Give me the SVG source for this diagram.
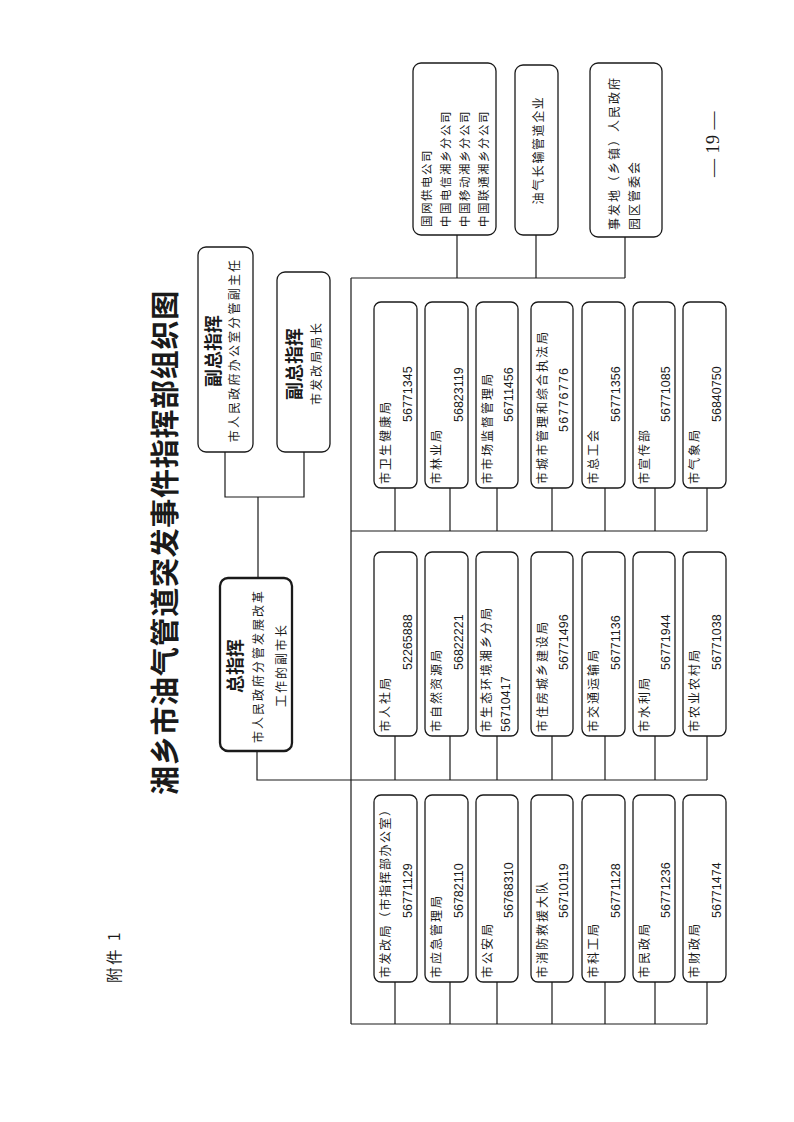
<svg xmlns="http://www.w3.org/2000/svg" width="794" height="1122" viewBox="0 0 794 1122">
<style>
.bg{fill:#fff}
.box{fill:#fff;stroke:#1a1a1a;stroke-width:1.3}
.bold{stroke-width:2.3}
.ln{fill:none;stroke:#1a1a1a;stroke-width:1.2}
text{fill:#1a1a1a;dominant-baseline:central}
.t{font-family:"Noto Sans CJK SC","Noto Sans CJK JP",sans-serif;font-size:12px;letter-spacing:2px}
.ts{font-family:"Noto Sans CJK SC","Noto Sans CJK JP",sans-serif;font-size:11.5px;letter-spacing:1.5px}
.n{font-family:"Liberation Sans",Arial,sans-serif;font-size:12.5px}
.h{font-family:"Noto Sans CJK SC","Noto Sans CJK JP",sans-serif;font-size:18px;font-weight:bold}
.title{font-family:"Noto Sans CJK SC","Noto Sans CJK JP",sans-serif;font-size:29px;font-weight:bold;letter-spacing:0.7px}
.mid{text-anchor:middle}
</style>
<rect class="bg" x="0" y="0" width="794" height="1122"/>

<text class="title" transform="translate(163,795) rotate(-90)">湘乡市油气管道突发事件指挥部组织图</text>
<text transform="translate(113,983) rotate(-90)" style="font-family:'Noto Sans CJK SC',sans-serif;font-size:15.5px;letter-spacing:2.5px">附件 1</text>
<text transform="translate(713,177) rotate(-90)" style="font-family:'Liberation Serif',serif;font-size:18px;letter-spacing:0.5px">— 19 —</text>

<g id="connectors">
<path class="ln" d="M225 452V497H304V452M258 497V578M257 751V780H707M351 278V1024M351 278H625M457 235V278M536 235V278M625 237V278"/>
<path class="ln" d="M351 531H707M395 488V531M450 488V531M497 488V531M552 488V531M605 488V531M655 488V531M707 488V531"/>
<path class="ln" d="M395 736V780M450 736V780M497 736V780M552 736V780M605 736V780M655 736V780M707 736V780"/>
<path class="ln" d="M351 1024H707M395 982V1024M450 982V1024M497 982V1024M552 982V1024M605 982V1024M655 982V1024M707 982V1024"/>
</g>

<!-- leadership -->
<g id="deputy1" transform="translate(198,452) rotate(-90)">
<rect class="box" x="0" y="0" width="205" height="55" rx="8"/>
<text class="h mid" x="101" y="14">副总指挥</text>
<text class="t mid" x="102" y="35" style="letter-spacing:2.2px">市人民政府办公室分管副主任</text>
</g>
<g id="deputy2" transform="translate(277,452) rotate(-90)">
<rect class="box" x="0" y="0" width="180" height="53" rx="8"/>
<text class="h mid" x="88" y="16">副总指挥</text>
<text class="t mid" x="89" y="38">市发改局局长</text>
</g>
<g id="chief" transform="translate(220,751) rotate(-90)">
<rect class="box bold" x="0" y="0" width="173" height="72" rx="8"/>
<text class="h mid" x="85" y="14">总指挥</text>
<text class="t mid" x="85" y="37">市人民政府分管发展改革</text>
<text class="t mid" x="86" y="60">工作的副市长</text>
</g>

<!-- top group -->
<g id="utilities" transform="translate(413,235) rotate(-90)">
<rect class="box" x="0" y="0" width="172" height="83" rx="8"/>
<text class="ts" x="8" y="13">国网供电公司</text>
<text class="ts" x="8" y="32">中国电信湘乡分公司</text>
<text class="ts" x="8" y="51">中国移动湘乡分公司</text>
<text class="ts" x="8" y="70">中国联通湘乡分公司</text>
</g>
<g id="pipeline" transform="translate(515,235) rotate(-90)">
<rect class="box" x="0" y="0" width="170" height="43" rx="8"/>
<text class="t mid" x="85" y="22" style="letter-spacing:1.6px">油气长输管道企业</text>
</g>
<g id="township" transform="translate(590,237) rotate(-90)">
<rect class="box" x="0" y="0" width="174" height="72" rx="8"/>
<text class="t" x="7" y="23">事发地（乡镇）人民政府</text>
<text class="t" x="7" y="43">园区管委会</text>
</g>

<!-- group 2 -->
<g id="weijian" transform="translate(374,488) rotate(-90)">
<rect class="box" x="0" y="0" width="186" height="43" rx="7"/>
<text class="t" x="4" y="10.5">市卫生健康局</text><text class="n" x="66" y="33.5">56771345</text>
</g>
<g id="linye" transform="translate(425,488) rotate(-90)">
<rect class="box" x="0" y="0" width="186" height="43" rx="7"/>
<text class="t" x="4" y="10.5">市林业局</text><text class="n" x="66" y="33.5">56823119</text>
</g>
<g id="shijian" transform="translate(476,488) rotate(-90)">
<rect class="box" x="0" y="0" width="186" height="42" rx="7"/>
<text class="t" x="4" y="10.5">市市场监督管理局</text><text class="n" x="66" y="33">56711456</text>
</g>
<g id="chengguan" transform="translate(531,488) rotate(-90)">
<rect class="box" x="0" y="0" width="186" height="42" rx="7"/>
<text class="t" x="4" y="10.5">市城市管理和综合执法局</text><text class="n" x="56" y="33" style="letter-spacing:1.2px">56776776</text>
</g>
<g id="zonggonghui" transform="translate(582,488) rotate(-90)">
<rect class="box" x="0" y="0" width="186" height="43" rx="7"/>
<text class="t" x="4" y="10.5">市总工会</text><text class="n" x="66" y="33.5">56771356</text>
</g>
<g id="xuanchuan" transform="translate(633,488) rotate(-90)">
<rect class="box" x="0" y="0" width="186" height="42" rx="7"/>
<text class="t" x="4" y="10.5">市宣传部</text><text class="n" x="66" y="33">56771085</text>
</g>
<g id="qixiang" transform="translate(683,488) rotate(-90)">
<rect class="box" x="0" y="0" width="186" height="43" rx="7"/>
<text class="t" x="4" y="10.5">市气象局</text><text class="n" x="66" y="33.5">56840750</text>
</g>

<!-- group 3 -->
<g id="renshe" transform="translate(374,736) rotate(-90)">
<rect class="box" x="0" y="0" width="184" height="43" rx="7"/>
<text class="t" x="4" y="10.5">市人社局</text><text class="n" x="66" y="33.5">52265888</text>
</g>
<g id="ziran" transform="translate(425,736) rotate(-90)">
<rect class="box" x="0" y="0" width="184" height="43" rx="7"/>
<text class="t" x="4" y="10.5">市自然资源局</text><text class="n" x="66" y="33.5">56822221</text>
</g>
<g id="shengtai" transform="translate(476,736) rotate(-90)">
<rect class="box" x="0" y="0" width="184" height="42" rx="7"/>
<text class="t" x="4" y="9">市生态环境湘乡分局</text><text class="n" x="4" y="30">56710417</text>
</g>
<g id="zhujian" transform="translate(531,736) rotate(-90)">
<rect class="box" x="0" y="0" width="184" height="42" rx="7"/>
<text class="t" x="4" y="10.5">市住房城乡建设局</text><text class="n" x="66" y="33">56771496</text>
</g>
<g id="jiaotong" transform="translate(582,736) rotate(-90)">
<rect class="box" x="0" y="0" width="184" height="43" rx="7"/>
<text class="t" x="4" y="10.5">市交通运输局</text><text class="n" x="66" y="33.5">56771136</text>
</g>
<g id="shuili" transform="translate(633,736) rotate(-90)">
<rect class="box" x="0" y="0" width="184" height="42" rx="7"/>
<text class="t" x="4" y="10.5">市水利局</text><text class="n" x="66" y="33">56771944</text>
</g>
<g id="nongye" transform="translate(683,736) rotate(-90)">
<rect class="box" x="0" y="0" width="184" height="43" rx="7"/>
<text class="t" x="4" y="10.5">市农业农村局</text><text class="n" x="66" y="33.5">56771038</text>
</g>

<!-- group 4 -->
<g id="fagai" transform="translate(374,982) rotate(-90)">
<rect class="box" x="0" y="0" width="187" height="43" rx="7"/>
<text class="t" x="4" y="10.5" style="letter-spacing:1.5px">市发改局（市指挥部办公室）</text><text class="n" x="64" y="33.5">56771129</text>
</g>
<g id="yingji" transform="translate(425,982) rotate(-90)">
<rect class="box" x="0" y="0" width="187" height="43" rx="7"/>
<text class="t" x="4" y="10.5">市应急管理局</text><text class="n" x="64" y="33.5">56782110</text>
</g>
<g id="gongan" transform="translate(476,982) rotate(-90)">
<rect class="box" x="0" y="0" width="187" height="42" rx="7"/>
<text class="t" x="4" y="10.5">市公安局</text><text class="n" x="64" y="33">56768310</text>
</g>
<g id="xiaofang" transform="translate(531,982) rotate(-90)">
<rect class="box" x="0" y="0" width="187" height="42" rx="7"/>
<text class="t" x="4" y="10.5">市消防救援大队</text><text class="n" x="64" y="33">56710119</text>
</g>
<g id="kegong" transform="translate(582,982) rotate(-90)">
<rect class="box" x="0" y="0" width="187" height="43" rx="7"/>
<text class="t" x="4" y="10.5">市科工局</text><text class="n" x="64" y="33.5">56771128</text>
</g>
<g id="minzheng" transform="translate(633,982) rotate(-90)">
<rect class="box" x="0" y="0" width="187" height="42" rx="7"/>
<text class="t" x="4" y="10.5">市民政局</text><text class="n" x="64" y="33">56771236</text>
</g>
<g id="caizheng" transform="translate(683,982) rotate(-90)">
<rect class="box" x="0" y="0" width="187" height="43" rx="7"/>
<text class="t" x="4" y="10.5">市财政局</text><text class="n" x="64" y="33.5">56771474</text>
</g>
</svg>
